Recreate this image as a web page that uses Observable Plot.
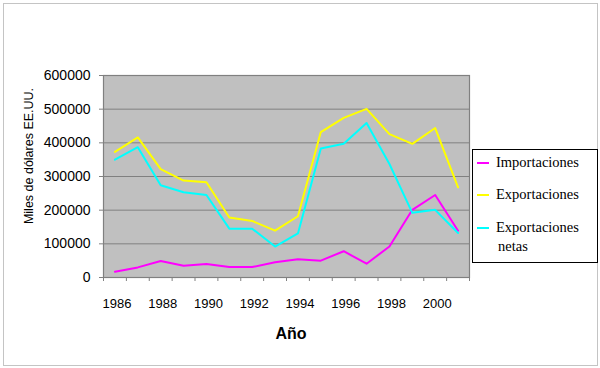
<!DOCTYPE html>
<html><head><meta charset="utf-8">
<script src="https://cdn.jsdelivr.net/npm/d3@7"></script>
<script src="https://cdn.jsdelivr.net/npm/@observablehq/plot@0.6"></script>
<style>
body{margin:0;background:#fff;}
#wrap{position:relative;width:600px;height:368px;overflow:hidden;background:#fff;}
#border{position:absolute;left:3px;top:3px;width:595px;height:363px;border:1px solid #c4c4c4;box-sizing:border-box;}
#chart{position:absolute;left:0;top:0;}
#legend{position:absolute;left:472px;top:149px;width:126px;height:114px;border:1.5px solid #000;box-sizing:border-box;background:#fff;font-family:"Liberation Serif","Times New Roman",serif;font-size:14.5px;color:#000;}
.sw{position:absolute;left:4px;width:12px;height:2px;}
.lt{position:absolute;left:23px;line-height:16px;white-space:nowrap;}
</style></head><body>
<div id="wrap"><div id="border"></div><div id="chart"></div><div id="legend"></div></div>
<script>
const years = [1986,1987,1988,1989,1990,1991,1992,1993,1994,1995,1996,1997,1998,1999,2000,2001];
const importaciones = [17000,30000,49000,35000,40000,31000,31000,45000,54000,50000,78000,41000,92000,201000,245000,139000];
const exportaciones = [373000,416000,322000,288000,283000,178000,168000,139000,182000,432000,474000,501000,426000,397000,444000,268000];
const netas = [350000,387000,274000,253000,245000,145000,145000,92000,131000,383000,397000,459000,337000,192000,201000,132000];
const seriesNames = ["Importaciones","Exportaciones","Exportaciones netas"];
const seriesColors = ["#ff00ff","#ffff00","#00ffff"];
const xTickLabels = [1986,1988,1990,1992,1994,1996,1998,2000];
const yTicks = [0,100000,200000,300000,400000,500000,600000];

const rows = [];
[importaciones, exportaciones, netas].forEach((vals,i)=>years.forEach((yr,j)=>rows.push({year:yr, value:vals[j], serie:seriesNames[i]})));
const boundaries = [...years.map(y=>y-0.5), years[years.length-1]+0.5];

const chart = Plot.plot({
  width:600, height:368, marginLeft:103, marginRight:131, marginTop:75, marginBottom:91,
  style:{fontFamily:"'Liberation Sans', Arial, sans-serif", background:"transparent", color:"#000", overflow:"visible"},
  x:{domain:[years[0]-0.5, years[years.length-1]+0.5]},
  y:{domain:[0,600000]},
  color:{domain:seriesNames, range:seriesColors},
  marks:[
    Plot.frame({fill:"#c0c0c0"}),
    Plot.gridY(yTicks, {stroke:"#808080", strokeOpacity:1}),
    Plot.frame({stroke:"#808080", strokeWidth:1.2}),
    Plot.axisY(yTicks, {tickSize:4, tickPadding:9, tickFormat:d=>String(d), fontSize:14, label:null, stroke:"#808080"}),
    Plot.axisX(boundaries, {tickSize:4, tickFormat:()=>"", label:null, stroke:"#808080"}),
    Plot.axisX(xTickLabels, {tickSize:0, tickPadding:21, tickFormat:d=>String(d), fontSize:13, label:null, dx:2}),
    Plot.lineY(rows, {x:"year", y:"value", z:"serie", stroke:"serie", strokeWidth:2})
  ]
});
document.getElementById("chart").appendChild(chart);
const svg = d3.select(chart);
svg.append("text").attr("x",291).attr("y",339).attr("text-anchor","middle")
  .attr("font-size",16).attr("font-weight","bold").attr("fill","#000").text("Año");
svg.append("text").attr("transform","translate(33,156) rotate(-90)").attr("text-anchor","middle")
  .attr("font-size",12.5).attr("fill","#000").text("Miles de dólares EE.UU.");

const legend = d3.select("#legend");
const items = [
  {name:"Importaciones", color:seriesColors[0], sy:12, lines:["Importaciones"]},
  {name:"Exportaciones", color:seriesColors[1], sy:44, lines:["Exportaciones"]},
  {name:"Exportaciones netas", color:seriesColors[2], sy:77, lines:["Exportaciones","netas"]}
];
items.forEach(it=>{
  legend.append("div").attr("class","sw").style("top",(it.sy)+"px").style("background",it.color);
  it.lines.forEach((t,k)=>{
    legend.append("div").attr("class","lt").style("top",(it.sy-8+k*19)+"px").style("left",(k? 25:23)+"px").text(t);
  });
});
</script>
</body></html>
